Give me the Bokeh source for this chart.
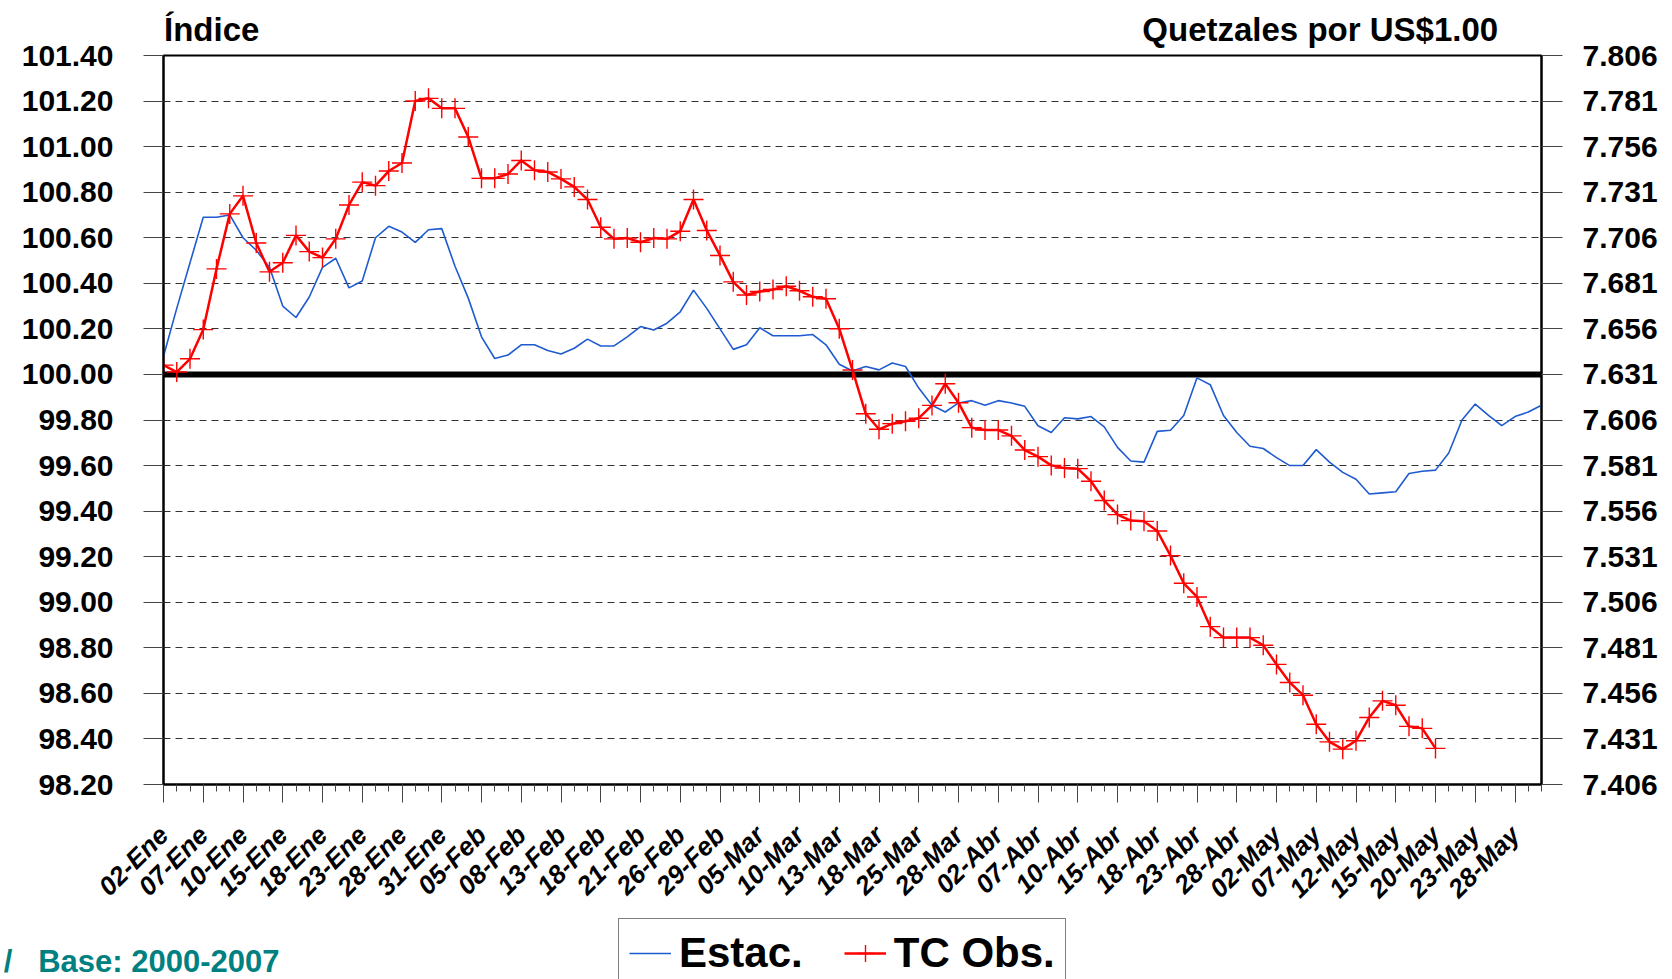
import math
from bokeh.plotting import figure
from bokeh.layouts import column
from bokeh.models import (Range1d, LinearAxis, FixedTicker, PrintfTickFormatter,
                          Span, Legend, LegendItem)
from bokeh.embed import file_html
from bokeh.resources import INLINE

FONT = "Liberation Sans"
NAN = float("nan")

# ---- categories: business days 2008 ----
fechas = [
    "02-Ene", "03-Ene", "04-Ene", "07-Ene", "08-Ene", "09-Ene", "10-Ene", "11-Ene", "14-Ene", "15-Ene",
    "16-Ene", "17-Ene", "18-Ene", "21-Ene", "22-Ene", "23-Ene", "24-Ene", "25-Ene", "28-Ene", "29-Ene",
    "30-Ene", "31-Ene",
    "01-Feb", "04-Feb", "05-Feb", "06-Feb", "07-Feb", "08-Feb", "11-Feb", "12-Feb", "13-Feb", "14-Feb",
    "15-Feb", "18-Feb", "19-Feb", "20-Feb", "21-Feb", "22-Feb", "25-Feb", "26-Feb", "27-Feb", "28-Feb",
    "29-Feb",
    "03-Mar", "04-Mar", "05-Mar", "06-Mar", "07-Mar", "10-Mar", "11-Mar", "12-Mar", "13-Mar", "14-Mar",
    "17-Mar", "18-Mar", "19-Mar", "24-Mar", "25-Mar", "26-Mar", "27-Mar", "28-Mar", "31-Mar",
    "01-Abr", "02-Abr", "03-Abr", "04-Abr", "07-Abr", "08-Abr", "09-Abr", "10-Abr", "11-Abr", "14-Abr",
    "15-Abr", "16-Abr", "17-Abr", "18-Abr", "21-Abr", "22-Abr", "23-Abr", "24-Abr", "25-Abr", "28-Abr",
    "29-Abr", "30-Abr",
    "02-May", "05-May", "06-May", "07-May", "08-May", "09-May", "12-May", "13-May", "14-May", "15-May",
    "16-May", "19-May", "20-May", "21-May", "22-May", "23-May", "26-May", "27-May", "28-May", "29-May",
    "30-May",
]

# ---- Estac. (índice, eje izquierdo) ----
estac = [
    100.08, 100.29, 100.49, 100.69, 100.69, 100.70, 100.60, 100.545, 100.47, 100.30,
    100.25, 100.34, 100.47, 100.51, 100.38, 100.41, 100.60, 100.65, 100.625, 100.58,
    100.635, 100.64, 100.475, 100.335, 100.165, 100.07, 100.085, 100.13, 100.13, 100.105,
    100.09, 100.115, 100.155, 100.125, 100.125, 100.165, 100.21, 100.195, 100.225, 100.275,
    100.37, 100.29, 100.20, 100.11, 100.13, 100.205, 100.17, 100.17, 100.17, 100.175,
    100.13, 100.045, 100.015, 100.035, 100.02, 100.05, 100.035, 99.94, 99.865, 99.835,
    99.875, 99.885, 99.865, 99.885, 99.875, 99.86, 99.775, 99.745, 99.81, 99.805,
    99.815, 99.77, 99.68, 99.62, 99.615, 99.75, 99.755, 99.82, 99.985, 99.955,
    99.82, 99.745, 99.685, 99.675, 99.635, 99.60, 99.60, 99.67, 99.615, 99.57,
    99.54, 99.475, 99.48, 99.485, 99.565, 99.575, 99.58, 99.655, 99.80, 99.87,
    99.82, 99.775, 99.815, 99.835, 99.865,
]

# ---- TC Obs. (quetzales por US$1.00, eje derecho) ----
tc_obs = [
    7.6361, 7.6323, 7.6396, 7.6556, 7.6889, 7.7191, 7.7290, 7.7031, 7.6873, 7.6923,
    7.7073, 7.6984, 7.6951, 7.7054, 7.7240, 7.7365, 7.7346, 7.7426, 7.7470, 7.7810,
    7.7825, 7.7770, 7.7770, 7.7613, 7.7386, 7.7386, 7.7410, 7.7484, 7.7430, 7.7421,
    7.7383, 7.7339, 7.7270, 7.7118, 7.7054, 7.7058, 7.7035, 7.7058, 7.7054, 7.7096,
    7.7270, 7.7100, 7.6963, 7.6818, 7.6746, 7.6765, 7.6776, 7.6794, 7.6769, 7.6736,
    7.6725, 7.6561, 7.6334, 7.6094, 7.6009, 7.6040, 7.6053, 7.6070, 7.6140, 7.6259,
    7.6155, 7.6018, 7.6005, 7.6005, 7.5973, 7.5895, 7.5859, 7.5811, 7.5796, 7.5793,
    7.5724, 7.5618, 7.5541, 7.5508, 7.5504, 7.5451, 7.5316, 7.5164, 7.5089, 7.4926,
    7.4866, 7.4866, 7.4866, 7.4824, 7.4719, 7.4620, 7.4550, 7.4391, 7.4294, 7.4254,
    7.4300, 7.4428, 7.4519, 7.4495, 7.4379, 7.4368, 7.4258,
]

ticks_izq = [98.20, 98.40, 98.60, 98.80, 99.00, 99.20, 99.40, 99.60, 99.80,
             100.00, 100.20, 100.40, 100.60, 100.80, 101.00, 101.20, 101.40]
ticks_der = [7.406, 7.431, 7.456, 7.481, 7.506, 7.531, 7.556, 7.581, 7.606,
             7.631, 7.656, 7.681, 7.706, 7.731, 7.756, 7.781, 7.806]
linea_base = 100.00

titulo_izq = "Índice"
titulo_der = "Quetzales por US$1.00"
nota = "/\u00a0\u00a0\u00a0Base: 2000-2007"
series_names = ["Estac.", "TC Obs."]

C_EST = "#1F5BD0"
C_TC = "#FF0000"
C_NOTA = "#008080"

# text anchor positions
POS_TIT_IZQ = 3.64      # category units
POS_TIT_DER = 87.30     # category units

W = 1672
H_MAIN = 917
H_FOOT = 979 - H_MAIN
LEG_H = 70
NOTA_Y = 18.5           # footer px from bottom

x_all = list(range(len(fechas)))
x_tc = x_all[:len(tc_obs)]

p = figure(width=W, height=H_MAIN, output_backend="svg", toolbar_location=None,
           x_range=Range1d(0, len(fechas) - 1),
           y_range=Range1d(ticks_izq[0], ticks_izq[-1]),
           min_border_left=163, min_border_right=131,
           min_border_top=55, min_border_bottom=H_MAIN - 785)
p.extra_y_ranges = {"q": Range1d(ticks_der[0], ticks_der[-1])}
p.background_fill_color = "white"
p.border_fill_color = "white"
p.outline_line_color = "black"
p.outline_line_width = 2

# grid
p.xgrid.visible = False
p.ygrid.ticker = FixedTicker(ticks=ticks_izq)
p.ygrid.grid_line_color = "#333333"
p.ygrid.grid_line_width = 1
p.ygrid.grid_line_dash = "7 5"

# x axis
xa = p.xaxis[0]
xa.ticker = FixedTicker(ticks=x_all[::3], minor_ticks=x_all)
xa.major_label_overrides = {i: fechas[i] for i in x_all[::3]}
xa.major_label_orientation = math.pi / 4
xa.major_label_text_font = FONT
xa.major_label_text_font_style = "bold italic"
xa.major_label_text_font_size = "26px"
xa.major_label_text_color = "black"
xa.major_label_standoff = 28
xa.major_tick_out = 18
xa.major_tick_in = 0
xa.minor_tick_out = 7
xa.minor_tick_in = 0
xa.major_tick_line_color = "#444444"
xa.minor_tick_line_color = "#444444"
xa.axis_line_color = "black"
xa.axis_line_width = 2

# left axis
ya = p.yaxis[0]
ya.ticker = FixedTicker(ticks=ticks_izq)
ya.formatter = PrintfTickFormatter(format="%.2f")
ya.major_label_text_font = FONT
ya.major_label_text_font_style = "bold"
ya.major_label_text_font_size = "30px"
ya.major_label_text_color = "black"
ya.major_label_standoff = 30
ya.major_tick_out = 20
ya.major_tick_in = 0
ya.minor_tick_line_color = None
ya.major_tick_line_color = "#444444"
ya.axis_line_color = "black"
ya.axis_line_width = 2

# right axis
ra = LinearAxis(y_range_name="q", ticker=FixedTicker(ticks=ticks_der),
                formatter=PrintfTickFormatter(format="%.3f"))
ra.major_label_text_font = FONT
ra.major_label_text_font_style = "bold"
ra.major_label_text_font_size = "30px"
ra.major_label_text_color = "black"
ra.major_label_standoff = 20
ra.major_tick_out = 21
ra.major_tick_in = 0
ra.minor_tick_line_color = None
ra.major_tick_line_color = "#444444"
ra.axis_line_color = "black"
ra.axis_line_width = 2
p.add_layout(ra, "right")

# header texts (axis placed above, without line/ticks)
ta = LinearAxis(ticker=FixedTicker(ticks=[POS_TIT_IZQ, POS_TIT_DER], minor_ticks=[]),
                major_label_overrides={POS_TIT_IZQ: titulo_izq, POS_TIT_DER: titulo_der})
ta.axis_line_color = None
ta.major_tick_line_color = None
ta.minor_tick_line_color = None
ta.major_tick_out = 0
ta.major_tick_in = 0
ta.major_label_text_font = FONT
ta.major_label_text_font_style = "bold"
ta.major_label_text_font_size = "33px"
ta.major_label_text_color = "black"
ta.major_label_standoff = 8
p.add_layout(ta, "above")

# thick base line at 100
p.add_layout(Span(location=linea_base, dimension="width", line_color="black",
                  line_width=6, level="underlay"))

# series
r_est = p.line(x_all, estac, line_color=C_EST, line_width=1.6)
r_tc = p.line(x_tc, tc_obs, y_range_name="q", line_color=C_TC, line_width=2.5)
r_tcm = p.scatter(x_tc, tc_obs, y_range_name="q", marker="cross", size=20,
                  line_color=C_TC, line_width=1.4)

# ---- footer: note + legend ----
f = figure(width=W, height=H_FOOT, output_backend="svg", toolbar_location=None,
           x_range=Range1d(0, 1), y_range=Range1d(0, H_FOOT),
           x_axis_type=None, y_axis_type=None,
           min_border_left=0, min_border_right=0, min_border_top=0, min_border_bottom=0)
f.outline_line_color = None
f.background_fill_color = "white"
f.border_fill_color = "white"

# note, as the single label of an axis at the left (no line, no tick)
fa = LinearAxis(ticker=FixedTicker(ticks=[NOTA_Y], minor_ticks=[]),
                major_label_overrides={NOTA_Y: nota})
fa.axis_line_color = None
fa.major_tick_line_color = None
fa.minor_tick_line_color = None
fa.major_tick_out = 0
fa.major_tick_in = 0
fa.major_label_text_font = FONT
fa.major_label_text_font_style = "bold"
fa.major_label_text_font_size = "31px"
fa.major_label_text_color = C_NOTA
try:
    fa.major_label_standoff = -116
except Exception:
    fa.major_label_standoff = 0
f.add_layout(fa, "left")

# legend swatches: same styles as the series, holding no visible point
s_est = f.line(x=[NAN], y=[NAN], line_color=C_EST, line_width=1.6)
s_tc = f.line(x=[NAN], y=[NAN], line_color=C_TC, line_width=2.5)
s_tcm = f.scatter(x=[NAN], y=[NAN], marker="cross", size=20, line_color=C_TC, line_width=1.4)

legend = Legend(items=[LegendItem(label=series_names[0], renderers=[s_est]),
                       LegendItem(label=series_names[1], renderers=[s_tc, s_tcm])],
                location=(618 - 163, H_FOOT - 1 - LEG_H), orientation="horizontal",
                label_text_font=FONT, label_text_font_style="bold",
                label_text_font_size="42px", label_text_color="black",
                border_line_color="black", border_line_width=1.5,
                background_fill_color="white", background_fill_alpha=1,
                padding=10, spacing=41, glyph_width=42, glyph_height=46,
                label_standoff=8, label_height=40, margin=0)
f.add_layout(legend)

root = column(p, f, spacing=0)
open("out.html", "w").write(file_html(root, INLINE))
